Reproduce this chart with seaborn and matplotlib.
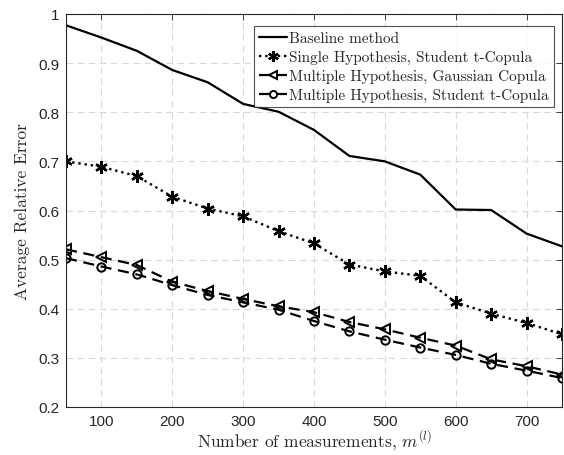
import pandas as pd
import seaborn as sns
import matplotlib.pyplot as plt

# values
measurements = [50, 100, 150, 200, 250, 300, 350, 400, 450, 500, 550, 600, 650, 700, 750]
baseline = [0.977, 0.952, 0.925, 0.886, 0.861, 0.817, 0.801, 0.764, 0.711, 0.700, 0.673, 0.602, 0.601, 0.553, 0.527]
single_t = [0.700, 0.689, 0.670, 0.628, 0.604, 0.588, 0.558, 0.533, 0.490, 0.476, 0.467, 0.413, 0.390, 0.371, 0.348]
multi_gauss = [0.521, 0.505, 0.489, 0.455, 0.436, 0.420, 0.405, 0.393, 0.373, 0.358, 0.341, 0.325, 0.297, 0.283, 0.266]
multi_t = [0.503, 0.486, 0.470, 0.448, 0.428, 0.413, 0.398, 0.375, 0.354, 0.337, 0.321, 0.306, 0.288, 0.274, 0.259]

series_names = ['Baseline method',
                'Single Hypothesis, Student t-Copula',
                'Multiple Hypothesis, Gaussian Copula',
                'Multiple Hypothesis, Student t-Copula']
series_values = [baseline, single_t, multi_gauss, multi_t]
x_ticks = [100, 200, 300, 400, 500, 600, 700]
y_ticks = [0.2, 0.3, 0.4, 0.5, 0.6, 0.7, 0.8, 0.9, 1.0]

rows = []
for name, vals in zip(series_names, series_values):
    for m, v in zip(measurements, vals):
        rows.append({'Method': name, 'm': m, 'err': v})
df = pd.DataFrame(rows)

sns.set_style("white")
plt.rcParams['font.family'] = ['Liberation Sans', 'DejaVu Sans']
plt.rcParams['mathtext.fontset'] = 'cm'
plt.rcParams['axes.unicode_minus'] = False

fig = plt.figure(figsize=(5.64, 4.56), dpi=100)
ax = fig.add_axes([66 / 564, 1 - 408 / 456, (562 - 66) / 564, (408 - 15) / 456])

# asterisk marker for the single hypothesis curve
styles = {
    series_names[0]: dict(linestyle='-', marker=None, lw=1.6),
    series_names[1]: dict(linestyle=':', marker=(6, 2, 0), lw=1.7, ms=9, mew=1.7),
    series_names[2]: dict(linestyle=(0, (5, 3)), marker='<', lw=1.6, ms=7, mew=1.4, mfc='none'),
    series_names[3]: dict(linestyle=(0, (5, 3)), marker='o', lw=1.6, ms=6, mew=1.4, mfc='none'),
}

for name in series_names:
    sub = df[df['Method'] == name]
    st = styles[name]
    sns.lineplot(data=sub, x='m', y='err', ax=ax, color='black', label=name,
                 linestyle=st['linestyle'], linewidth=st['lw'],
                 marker=st['marker'], markersize=st.get('ms', 6),
                 markeredgewidth=st.get('mew', 1), markeredgecolor='black',
                 markerfacecolor=st.get('mfc', 'black'))

ax.set_xlim(50, 750)
ax.set_ylim(0.2, 1.0)
ax.set_xticks(x_ticks)
ax.set_yticks(y_ticks)
ax.set_yticklabels(['0.2', '0.3', '0.4', '0.5', '0.6', '0.7', '0.8', '0.9', '1'])

ax.grid(True, linestyle=(0, (6, 4)), color='#d9d9d9', linewidth=0.8)
ax.tick_params(direction='in', top=True, right=True, length=4, width=0.6,
               labelsize=11, colors='#262626', pad=5)
for sp in ax.spines.values():
    sp.set_color('#262626')
    sp.set_linewidth(0.8)

ax.set_xlabel('Number of measurements, $m^{(l)}$', fontfamily='cmr10',
              fontsize=12.5, color='#262626', labelpad=0)
ax.set_ylabel('Average Relative Error', fontfamily='cmr10',
              fontsize=12.5, color='#262626', labelpad=6)

leg = ax.legend(loc='upper right', bbox_to_anchor=(0.984, 0.97),
                prop={'family': 'cmr10', 'size': 11}, frameon=True,
                fancybox=False, edgecolor='#262626', handlelength=1.8,
                handletextpad=0.15, borderpad=0.35, labelspacing=0.32,
                borderaxespad=0.0, markerscale=0.85)
leg.get_frame().set_linewidth(0.8)

fig.savefig('out.png', dpi=100)
